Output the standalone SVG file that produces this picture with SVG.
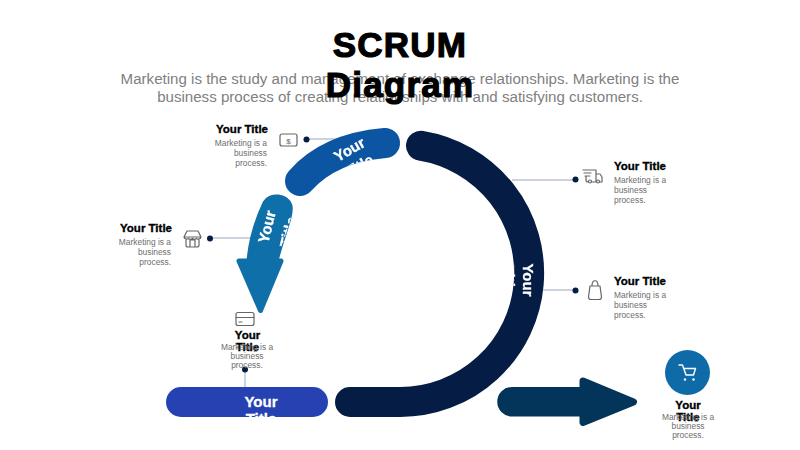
<svg xmlns="http://www.w3.org/2000/svg" width="800" height="450" viewBox="0 0 800 450">
<style>
text{font-family:"Liberation Sans",Arial,sans-serif}
.h{font-size:35px;font-weight:700;fill:#000;stroke:#000;stroke-width:1.2;text-anchor:middle;letter-spacing:1.2px}
.sub{font-size:15.1px;fill:#808080;text-anchor:middle}
.t{font-size:11.5px;font-weight:700;fill:#000;stroke:#000;stroke-width:.35}
.d{font-size:8.4px;fill:#6e6e6e}
.e{text-anchor:end}.m{text-anchor:middle}
.w{font-size:15px;font-weight:700;fill:#fff;text-anchor:middle;stroke:#fff;stroke-width:.3}
.c{stroke:#9aa6bd;stroke-width:1;fill:none}
.dot{fill:#051c44}
.i{fill:none;stroke:#666;stroke-width:1.2;stroke-linejoin:round;stroke-linecap:round}
.a{fill:none;stroke-width:30;stroke-linecap:round}
</style>
<defs>
<mask id="m1" maskUnits="userSpaceOnUse" x="0" y="0" width="800" height="450"><path class="a" stroke="#fff" d="M300 181C320 158 350 146 385 143"/></mask>
<mask id="m2" maskUnits="userSpaceOnUse" x="0" y="0" width="800" height="450"><path fill="#fff" d="M247 260C250 238 255 220 263 202C269 192 288 192 292 206C294 216 284 236 278 260Z"/></mask>
<mask id="m3" maskUnits="userSpaceOnUse" x="0" y="0" width="800" height="450"><path class="a" stroke="#fff" d="M421 145.700A129 129 0 0 1 400 402H350"/></mask>
<clipPath id="m4"><rect x="166" y="387" width="162" height="30" rx="15"/></clipPath>
</defs>

<g id="connectors">
<path class="c" d="M306 139H345"/>
<path class="c" d="M210 238H252"/>
<path class="c" d="M245 369V388"/>
<path class="c" d="M512 180H576"/>
<path class="c" d="M543 290H576"/>
<circle class="dot" cx="306.500" cy="139.500" r="3"/>
<circle class="dot" cx="210" cy="238.500" r="3"/>
<circle class="dot" cx="245" cy="369.500" r="3"/>
<circle class="dot" cx="575.500" cy="179.500" r="3"/>
<circle class="dot" cx="575.500" cy="290.500" r="3"/>
</g>

<g id="header">
<text class="h" x="400" y="57">SCRUM</text>
<text class="sub" x="400" y="84">Marketing is the study and management of exchange relationships. Marketing is the</text>
<text class="sub" x="400" y="102">business process of creating relationships with and satisfying customers.</text>
<text class="h" x="400" y="97">Diagram</text>
</g>

<g id="node-top">
<path class="a" stroke="#0b55a2" d="M300 181C320 158 350 146 385 143"/>
<g mask="url(#m1)"><text class="w" transform="translate(352 154) rotate(-30)">Your<tspan x="0" dy="19">Title</tspan></text></g>
<text class="t e" x="268" y="133">Your Title</text>
<text class="d e" x="267" y="146">Marketing is a</text>
<text class="d e" x="267" y="156">business</text>
<text class="d e" x="267" y="166">process.</text>
<rect class="i" x="280" y="134" width="17" height="12" rx="2"/>
<text x="288.500" y="143.500" font-size="8" fill="#666" text-anchor="middle">$</text>
</g>

<g id="node-left">
<path fill="#0f6fa9" stroke="#0f6fa9" stroke-width="5" stroke-linejoin="round" d="M249 261C251 238 256 222 265 203C270 194 287 195 290 206C292 216 282 236 276 261H281L260.500 310.500L239 261Z"/>
<g mask="url(#m2)"><text class="w" transform="translate(272 228) rotate(-76)">Your<tspan x="0" dy="22">Title</tspan></text></g>
<text class="t e" x="172" y="232">Your Title</text>
<text class="d e" x="171" y="245">Marketing is a</text>
<text class="d e" x="171" y="255">business</text>
<text class="d e" x="171" y="265">process.</text>
<path class="i" d="M187 231H198L201 237A2.800 2.800 0 0 1 196.500 238.500A2.800 2.800 0 0 1 192.500 238.500A2.800 2.800 0 0 1 188.500 238.500A2.800 2.800 0 0 1 184 237ZM184 237H201M186 240V245Q186 247 188 247H197Q199 247 199 245V240M190 247V240H195V247"/>
</g>

<g id="node-card">
<rect class="i" x="236" y="312.500" width="18" height="13" rx="2"/>
<path class="i" d="M236 317.500H254M239 322H242"/>
<text class="t m" x="247.500" y="339">Your</text>
<text class="t m" x="247.500" y="351">Title</text>
<text class="d m" x="247" y="350">Marketing is a</text>
<text class="d m" x="247" y="359">business</text>
<text class="d m" x="247" y="368">process.</text>
</g>

<g id="node-bottom">
<rect x="166" y="387" width="162" height="30" rx="15" fill="#2541b2"/>
<g clip-path="url(#m4)"><text class="w" x="261" y="407">Your<tspan x="261" dy="17">Title</tspan></text></g>
</g>

<g id="node-ring">
<path class="a" stroke="#051c44" d="M421 145.700A129 129 0 0 1 400 402H350"/>
<g mask="url(#m3)"><text class="w" transform="translate(523 280) rotate(90)">Your<tspan x="0" dy="19">Title</tspan></text></g>
<path class="i" d="M583 170H596V181M584 173H591M585 176H590M586 176V180Q586 182 588 182M596 174H600L602 177V182H600M596 182H592"/>
<circle class="i" cx="590" cy="181.500" r="1.500"/><circle class="i" cx="598" cy="181.500" r="1.500"/>
<text class="t" x="614" y="170">Your Title</text>
<text class="d" x="614" y="183">Marketing is a</text>
<text class="d" x="614" y="193">business</text>
<text class="d" x="614" y="203">process.</text>
<path class="i" d="M590 286H600L601.500 297Q601.500 299.500 599 299.500H591Q588.500 299.500 588.500 297ZM592 286C592 279 598 279 598 286"/>
<text class="t" x="614" y="285">Your Title</text>
<text class="d" x="614" y="298">Marketing is a</text>
<text class="d" x="614" y="308">business</text>
<text class="d" x="614" y="318">process.</text>
</g>

<g id="node-arrow">
<path fill="#03355a" stroke="#03355a" stroke-width="7" stroke-linejoin="round" d="M512 390.500H583V381L633.500 402L583 422.500V413H512A11.200 11.200 0 0 1 512 390.500Z"/>
<circle cx="687.500" cy="372.500" r="22.500" fill="#0f6ba8"/>
<path fill="none" stroke="#fff" stroke-width="1.400" stroke-linejoin="round" stroke-linecap="round" d="M679 365H682.500L686 375H693.500L695.500 368.500H684"/>
<circle cx="685" cy="379.500" r="1.200" fill="#fff"/><circle cx="693.500" cy="379.500" r="1.200" fill="#fff"/>
<text class="t m" x="688" y="409">Your</text>
<text class="t m" x="688" y="421">Title</text>
<text class="d m" x="688" y="420">Marketing is a</text>
<text class="d m" x="688" y="429">business</text>
<text class="d m" x="688" y="438">process.</text>
</g>
</svg>
